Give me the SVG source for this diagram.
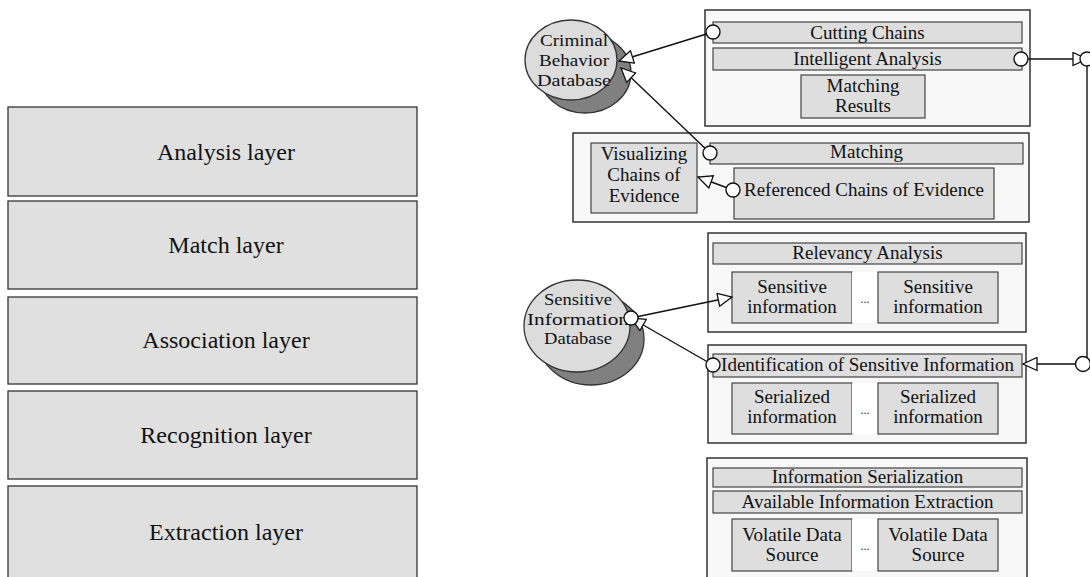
<svg xmlns="http://www.w3.org/2000/svg" width="1090" height="577" viewBox="0 0 1090 577">
<style>
.layer{fill:#e0e0e0;stroke:#333;stroke-width:1.3}
.outer{fill:#f8f8f8;stroke:#333;stroke-width:1.5}
.bar{fill:#dedede;stroke:#444;stroke-width:1.2}
.gap{fill:#fff;stroke:none}
.t24{font-family:"Liberation Serif","Times New Roman",serif;font-size:24px;fill:#111;text-anchor:middle}
.t19{font-family:"Liberation Serif","Times New Roman",serif;font-size:19px;fill:#111;text-anchor:middle}
.tdb{font-family:"Liberation Serif","Times New Roman",serif;font-size:17px;fill:#111;text-anchor:middle}
.dots{font-family:"Liberation Serif","Times New Roman",serif;font-size:12px;fill:#333;text-anchor:middle}
.dbf{fill:#dcdcdc;stroke:#333;stroke-width:1.3}
.dbb{fill:#808080;stroke:#333;stroke-width:1.3}
.conn line{stroke:#111;stroke-width:1.4;fill:none}
.lol{fill:#fff;stroke:#111;stroke-width:1.4}
</style>
<defs>
<marker id="tri" viewBox="-1 -1 16 15" refX="14" refY="6.5" markerWidth="16" markerHeight="15" markerUnits="userSpaceOnUse" orient="auto">
<path d="M0,0 L14,6.5 L0,13 Z" fill="#fff" stroke="#111" stroke-width="1.3"/>
</marker>
</defs>
<rect width="1090" height="577" fill="#fff"/>

<!-- Left layers -->
<g id="analysis-layer"><rect class="layer" x="8" y="107" width="409" height="89"/><text class="t24" x="226" y="160">Analysis layer</text></g>
<g id="match-layer"><rect class="layer" x="8" y="201" width="409" height="88"/><text class="t24" x="226" y="253">Match layer</text></g>
<g id="association-layer"><rect class="layer" x="8" y="297" width="409" height="87"/><text class="t24" x="226" y="348">Association layer</text></g>
<g id="recognition-layer"><rect class="layer" x="8" y="391" width="409" height="88"/><text class="t24" x="226" y="443">Recognition layer</text></g>
<g id="extraction-layer"><rect class="layer" x="8" y="486" width="409" height="100"/><text class="t24" x="226" y="540">Extraction layer</text></g>

<!-- Databases -->
<g id="criminal-db">
<ellipse class="dbb" cx="585" cy="73" rx="46" ry="40"/>
<ellipse class="dbf" cx="571" cy="60" rx="46" ry="40"/>
<text class="tdb" x="574" y="46" textLength="68" lengthAdjust="spacingAndGlyphs">Criminal</text>
<text class="tdb" x="574" y="66" textLength="70" lengthAdjust="spacingAndGlyphs">Behavior</text>
<text class="tdb" x="574" y="85.5" textLength="74" lengthAdjust="spacingAndGlyphs">Database</text>
</g>
<g id="sensitive-db">
<ellipse class="dbb" cx="591" cy="339" rx="53" ry="46"/>
<ellipse class="dbf" cx="577" cy="326" rx="53" ry="46"/>
<text class="tdb" x="578" y="305" textLength="68" lengthAdjust="spacingAndGlyphs">Sensitive</text>
<text class="tdb" x="578" y="325" textLength="102" lengthAdjust="spacingAndGlyphs">Information</text>
<text class="tdb" x="578" y="344" textLength="68" lengthAdjust="spacingAndGlyphs">Database</text>
</g>

<!-- Analysis group -->
<g id="analysis-group">
<rect class="outer" x="705" y="10" width="325" height="116"/>
<g id="cutting-chains"><rect class="bar" x="713" y="22" width="309" height="21"/><text class="t19" x="867.5" y="38.5">Cutting Chains</text></g>
<g id="intelligent-analysis"><rect class="bar" x="713" y="48" width="309" height="22"/><text class="t19" x="867.5" y="64.5">Intelligent Analysis</text></g>
<g id="matching-results"><rect class="bar" x="801" y="75" width="124" height="43"/><text class="t19" x="863" y="92">Matching</text><text class="t19" x="863" y="112">Results</text></g>
</g>

<!-- Match group -->
<g id="match-group">
<rect class="outer" x="573" y="133" width="456" height="89"/>
<g id="matching"><rect class="bar" x="710" y="143" width="313" height="21"/><text class="t19" x="866.5" y="158">Matching</text></g>
<g id="visualizing"><rect class="bar" x="591" y="143" width="106" height="70"/><text class="t19" x="644" y="160">Visualizing</text><text class="t19" x="644" y="181">Chains of</text><text class="t19" x="644" y="202">Evidence</text></g>
<g id="referenced-chains"><rect class="bar" x="734" y="168" width="260" height="51"/><text class="t19" x="864" y="196">Referenced Chains of Evidence</text></g>
</g>

<!-- Association group -->
<g id="association-group">
<rect class="outer" x="708" y="233" width="318" height="99"/>
<g id="relevancy-analysis"><rect class="bar" x="713" y="243" width="309" height="21"/><text class="t19" x="867.5" y="259">Relevancy Analysis</text></g>
<g id="sensitive-info-1"><rect class="bar" x="732" y="272" width="120" height="51"/><text class="t19" x="792" y="293">Sensitive</text><text class="t19" x="792" y="313">information</text></g>
<g id="sensitive-gap"><rect class="gap" x="852" y="272" width="26" height="51"/><text class="dots" x="865" y="303">...</text></g>
<g id="sensitive-info-2"><rect class="bar" x="878" y="272" width="120" height="51"/><text class="t19" x="938" y="293">Sensitive</text><text class="t19" x="938" y="313">information</text></g>
</g>

<!-- Recognition group -->
<g id="recognition-group">
<rect class="outer" x="708" y="345" width="318" height="98"/>
<g id="identification"><rect class="bar" x="713" y="354" width="309" height="23"/><text class="t19" x="867.5" y="371">Identification of Sensitive Information</text></g>
<g id="serialized-1"><rect class="bar" x="732" y="383" width="120" height="51"/><text class="t19" x="792" y="403">Serialized</text><text class="t19" x="792" y="423">information</text></g>
<g id="serialized-gap"><rect class="gap" x="852" y="383" width="26" height="51"/><text class="dots" x="865" y="414">...</text></g>
<g id="serialized-2"><rect class="bar" x="878" y="383" width="120" height="51"/><text class="t19" x="938" y="403">Serialized</text><text class="t19" x="938" y="423">information</text></g>
</g>

<!-- Extraction group -->
<g id="extraction-group">
<rect class="outer" x="707" y="458" width="320" height="130"/>
<g id="information-serialization"><rect class="bar" x="713" y="468" width="309" height="19"/><text class="t19" x="867.5" y="483">Information Serialization</text></g>
<g id="available-extraction"><rect class="bar" x="713" y="491" width="309" height="22"/><text class="t19" x="867.5" y="508">Available Information Extraction</text></g>
<g id="volatile-1"><rect class="bar" x="732" y="519" width="120" height="52"/><text class="t19" x="792" y="541">Volatile Data</text><text class="t19" x="792" y="561">Source</text></g>
<g id="volatile-gap"><rect class="gap" x="852" y="519" width="26" height="52"/><text class="dots" x="865" y="550">...</text></g>
<g id="volatile-2"><rect class="bar" x="878" y="519" width="120" height="52"/><text class="t19" x="938" y="541">Volatile Data</text><text class="t19" x="938" y="561">Source</text></g>
</g>

<!-- Connectors -->
<g id="connectors" class="conn">
<line x1="713" y1="32" x2="619" y2="61" marker-end="url(#tri)"/>
<line x1="710" y1="153" x2="621" y2="68" marker-end="url(#tri)"/>
<line x1="733" y1="190" x2="698" y2="177" marker-end="url(#tri)"/>
<line x1="1021" y1="59" x2="1087" y2="59" marker-end="url(#tri)"/>
<line x1="1087" y1="66" x2="1087" y2="358"/>
<line x1="1083" y1="364" x2="1023" y2="364" marker-end="url(#tri)"/>
<line x1="631" y1="318" x2="732" y2="297" marker-end="url(#tri)"/>
<line x1="713" y1="365" x2="631" y2="318" marker-end="url(#tri)"/>
<circle class="lol" cx="713" cy="32" r="7"/>
<circle class="lol" cx="1021" cy="59" r="7"/>
<circle class="lol" cx="710" cy="153" r="7"/>
<circle class="lol" cx="733" cy="190" r="7"/>
<circle class="lol" cx="713" cy="365" r="7"/>
<circle class="lol" cx="631" cy="318" r="7"/>
<circle class="lol" cx="1087" cy="59" r="7"/>
<circle class="lol" cx="1083" cy="364" r="7.5"/>
</g>
</svg>
